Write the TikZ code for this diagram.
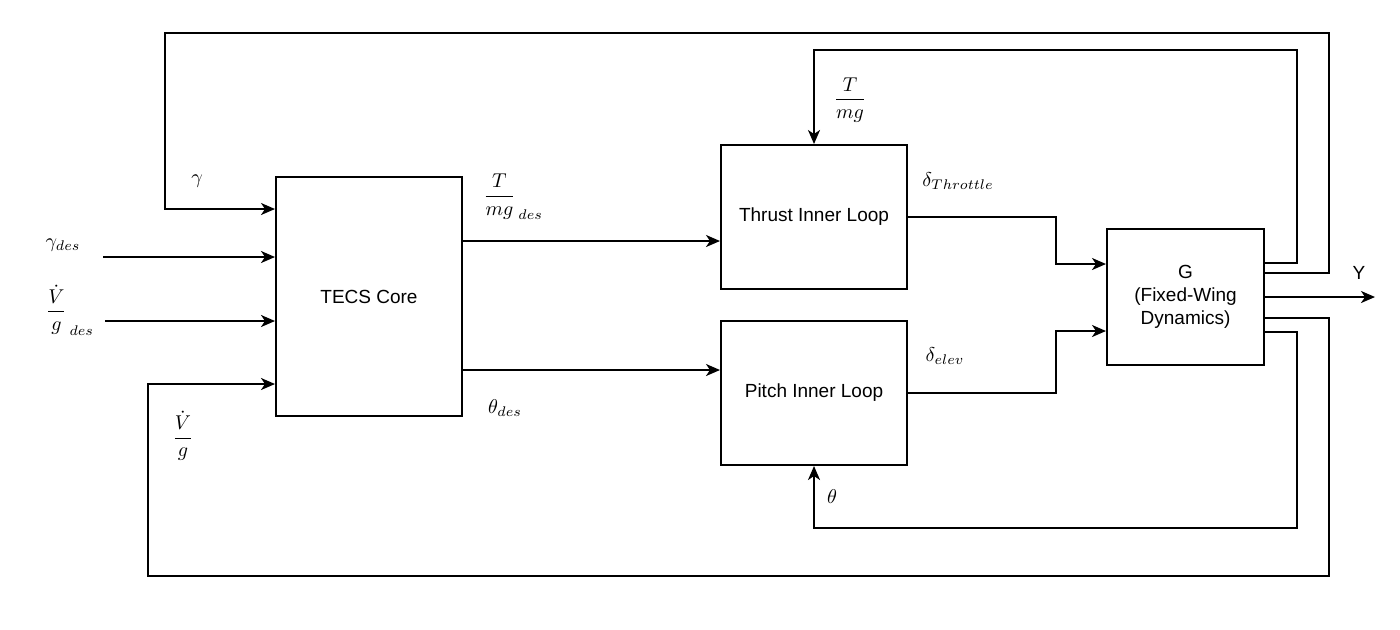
\documentclass[tikz,border=0pt]{standalone}
\usepackage{fontspec}
\usepackage{amsmath, amssymb}
\usetikzlibrary{calc, arrows.meta}
\newfontfamily\blockfont{Liberation Sans}

\begin{document}
\begin{tikzpicture}[%
x=0.5pt, y=-0.5pt,
block/.style={draw, line width=1pt, rectangle, align=center, inner sep=0pt, font=\blockfont\fontsize{9.5}{11.5}\selectfont},
sig/.style={line width=1pt, -{Stealth[length=7pt,width=6pt,inset=2pt]}},
]
\useasboundingbox (0,0) rectangle (1400,629);
%% blocks;
\node [block, minimum width=93pt, minimum height=119.5pt] (tecs) at (369,296.5) {TECS Core};
\node [block, minimum width=93pt, minimum height=72pt] (thrust) at (814,217) {Thrust Inner Loop};
\node [block, minimum width=93pt, minimum height=72pt] (pitch) at (814,393) {Pitch Inner Loop};
\node [block, minimum width=78.5pt, minimum height=68pt] (plant) at (1185.5,297) {G\\(Fixed-Wing\\Dynamics)};
%% corners and free ends;
\coordinate (gamR) at (1329,33);
\coordinate (gamL) at (165,209);
\coordinate (tmgR) at (1297,50);
\coordinate (thR) at (1297,528);
\coordinate (vgR) at (1329,576);
\coordinate (vgL) at (148,384);
\coordinate (thrB) at (1056,264);
\coordinate (elvB) at (1056,331);
\coordinate (gamIn) at (103,257);
\coordinate (vgIn) at (105,321);
\coordinate (yOut) at (1375,297);
%% inputs;
\draw [sig] (gamIn) -- (tecs.west |- gamIn);
\draw [sig] (vgIn) -- (tecs.west |- vgIn);
%% forward path;
\draw [sig] (tecs.east |- 0,241) -- (thrust.west |- 0,241);
\draw [sig] (tecs.east |- 0,370) -- (pitch.west |- 0,370);
\draw [sig] (thrust.east) -| (thrB) -- (plant.west |- thrB);
\draw [sig] (pitch.east) -| (elvB) -- (plant.west |- elvB);
\draw [sig] (plant.east) -- (yOut);
%% feedback;
\draw [sig] (plant.east |- 0,273) -| (gamR) -| (gamL) -- (tecs.west |- gamL);
\draw [sig] (plant.east |- 0,263) -| (tmgR) -| (thrust.north);
\draw [sig] (plant.east |- 0,332) -| (thR) -| (pitch.south);
\draw [sig] (plant.east |- 0,318) -| (vgR) -| (vgL) -- (tecs.west |- vgL);
%% labels;
\node (lGam) at (197,181) {$\gamma$};
\node (lGamDes) at (63,245) {$\gamma_{des}$};
\node (lVgDes) at (70,310) {$\dfrac{\dot{V}}{g}_{\,des}$};
\node (lVg) at (183,436) {$\dfrac{\dot{V}}{g}$};
\node (lTmgDes) at (513,197) {$\dfrac{T}{mg}_{\,des}$};
\node (lThDes) at (505,408) {$\theta_{des}$};
\node (lTmg) at (850,100) {$\dfrac{T}{mg}$};
\node (lThr) at (958,181) {$\delta_{Throttle}$};
\node (lElv) at (945,356) {$\delta_{elev}$};
\node (lTh) at (832,497) {$\theta$};
\node [font=\blockfont\fontsize{9.5}{11.5}\selectfont] (lY) at (1359,273) {Y};
\end{tikzpicture}
\end{document}
